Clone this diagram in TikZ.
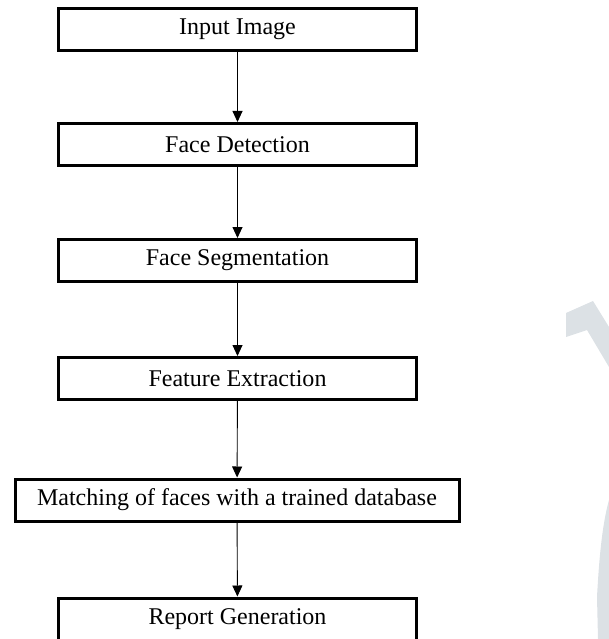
\documentclass[tikz,border=0pt]{standalone}
\usepackage{fontspec}
\setmainfont{Liberation Serif}
\usetikzlibrary{arrows.meta}
\definecolor{wmgray}{RGB}{220,225,229}
\tikzset{
  stagebox/.style={draw, line width=3pt, minimum width=358pt, minimum height=42pt,
    inner sep=0pt, font=\fontsize{24}{28}\selectfont},
  widebox/.style={stagebox, minimum width=444pt},
  flow/.style={line width=0.9pt, -{Triangle[length=11pt,width=10pt]}}
}
\begin{document}
\begin{tikzpicture}[x=1pt,y=-1pt]
\useasboundingbox (0,0) rectangle (609,639);
% faint watermark at the right edge
\fill[wmgray] (566,313) -- (593,301) -- (609,327) -- (609,367) -- (587,330) -- (566,337) -- cycle;
\fill[wmgray] (609,500) .. controls (602,525) and (599,560) .. (597,597) -- (598,639) -- (609,639) -- cycle;

\node[stagebox] (input)   at (237.5,29.5)  {Input Image};
\node[stagebox] (detect)  at (237.5,144.5) {Face Detection};
\node[stagebox] (segment) at (237.5,260.5) {Face Segmentation};
\node[stagebox] (feature) at (237.5,378.5) {Feature Extraction};
\node[widebox]  (match)   at (237,500)     {Matching of faces with a trained database};
\node[stagebox] (report)  at (237.5,619)   {Report Generation};

\foreach \a/\b in {input/detect, detect/segment, segment/feature, feature/match, match/report}
\draw[flow] (\a) -- (\b);
\end{tikzpicture}
\end{document}
